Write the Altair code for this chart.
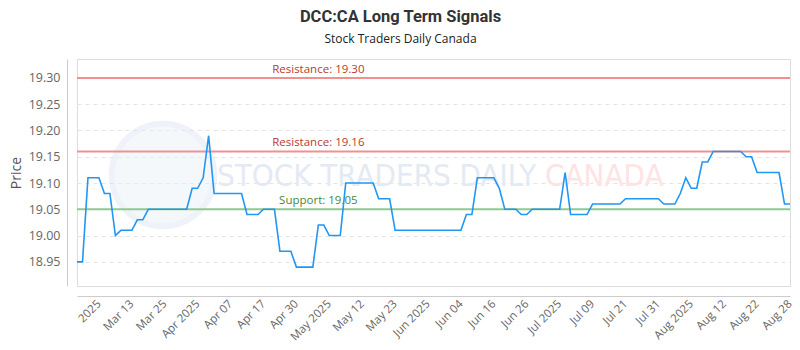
import altair as alt
import pandas as pd

# ---- data ----
prices = [
    18.95, 18.95, 19.11, 19.11, 19.11, 19.08, 19.08, 19.00, 19.01, 19.01,
    19.01, 19.03, 19.03, 19.05, 19.05, 19.05, 19.05, 19.05, 19.05, 19.05,
    19.05, 19.09, 19.09, 19.11, 19.19, 19.08, 19.08, 19.08, 19.08, 19.08,
    19.08, 19.04, 19.04, 19.04, 19.05, 19.05, 19.05, 18.97, 18.97, 18.97,
    18.94, 18.94, 18.94, 18.94, 19.02, 19.02, 19.00, 19.00, 19.00, 19.10,
    19.10, 19.10, 19.10, 19.10, 19.10, 19.07, 19.07, 19.07, 19.01, 19.01,
    19.01, 19.01, 19.01, 19.01, 19.01, 19.01, 19.01, 19.01, 19.01, 19.01,
    19.01, 19.04, 19.04, 19.11, 19.11, 19.11, 19.11, 19.09, 19.05, 19.05,
    19.05, 19.04, 19.04, 19.05, 19.05, 19.05, 19.05, 19.05, 19.05, 19.12,
    19.04, 19.04, 19.04, 19.04, 19.06, 19.06, 19.06, 19.06, 19.06, 19.06,
    19.07, 19.07, 19.07, 19.07, 19.07, 19.07, 19.07, 19.06, 19.06, 19.06,
    19.08, 19.11, 19.09, 19.09, 19.14, 19.14, 19.16, 19.16, 19.16, 19.16,
    19.16, 19.16, 19.15, 19.15, 19.12, 19.12, 19.12, 19.12, 19.12, 19.06,
    19.06,
]

tick_pos = [4, 10, 16, 22, 28, 34, 40, 46, 52, 58, 64, 70, 76, 82, 88, 94,
            100, 106, 112, 118, 124, 130]
tick_labels = ["2025", "Mar 13", "Mar 25", "Apr 2025", "Apr 07", "Apr 17",
               "Apr 30", "May 2025", "May 12", "May 23", "Jun 2025", "Jun 04",
               "Jun 16", "Jun 26", "Jul 2025", "Jul 09", "Jul 21", "Jul 31",
               "Aug 2025", "Aug 12", "Aug 22", "Aug 28"]

y_ticks = [18.95, 19.00, 19.05, 19.10, 19.15, 19.20, 19.25, 19.30]

levels = [19.30, 19.16, 19.05]
level_text = ["Resistance: 19.30", "Resistance: 19.16", "Support: 19.05"]
level_kind = ["Resistance", "Resistance", "Support"]
label_pos = [44, 44, 44]

# ---- tables ----
df = pd.DataFrame({"idx": list(range(len(prices))), "price": prices})
lv = pd.DataFrame({"level": levels, "text": level_text, "kind": level_kind,
                   "pos": label_pos})

x_scale = alt.Scale(domain=[0, len(prices) - 1], nice=False, zero=False)
y_scale = alt.Scale(domain=[18.904, 19.336], nice=False, zero=False)

lookup = "{" + ",".join("'%d':'%s'" % (p, t) for p, t in zip(tick_pos, tick_labels)) + "}"

x_axis = alt.Axis(values=tick_pos, labelExpr=lookup + "[toString(datum.value)]",
                  labelAngle=-45, labelAlign="right", labelBaseline="middle",
                  labelFlush=False, labelOverlap=False, labelPadding=6,
                  labelFont="Open Sans", labelFontSize=11.5, labelColor="#666",
                  ticks=False, grid=False, domainColor="#ccc", offset=10,
                  title=None)
y_axis = alt.Axis(values=y_ticks, format=".2f", labelFont="Open Sans",
                  labelFontSize=12.5, labelColor="#666", labelPadding=7,
                  labelOverlap=False, labelFlush=False,
                  ticks=False, domainColor="#ccc", offset=10,
                  grid=True, gridColor="#e4e4e4", gridDash=[4, 4],
                  title="Price", titleFont="Open Sans", titleFontSize=14,
                  titleFontWeight="normal", titleColor="#555", titlePadding=5)

kind_color = alt.Scale(domain=["Resistance", "Support"],
                       range=["#f29090", "#90c890"])
kind_text_color = alt.Scale(domain=["Resistance", "Support"],
                            range=["#b83a32", "#3f8a3f"])

WM_FONT = "'DejaVu Sans Condensed', Roboto, sans-serif"

# watermark (decorative)
wm_logo = alt.Chart(pd.DataFrame({"a": [0]})).mark_point(
    shape="circle", size=10500, filled=True, fill="#eaf0f8", opacity=0.45,
    stroke="#dde6f2", strokeWidth=6).encode(x=alt.value(86), y=alt.value(116))
wm_text1 = alt.Chart(pd.DataFrame({"a": [0]})).mark_text(
    text="STOCK TRADERS DAILY", font=WM_FONT, fontSize=31,
    color="#e4eaf3", align="left", baseline="middle").encode(
    x=alt.value(140), y=alt.value(118))
wm_text2 = alt.Chart(pd.DataFrame({"a": [0]})).mark_text(
    text="CANADA", font=WM_FONT, fontSize=31,
    color="#fde3e3", align="left", baseline="middle").encode(
    x=alt.value(468), y=alt.value(118))

rules = alt.Chart(lv).mark_rule(strokeWidth=2).encode(
    y=alt.Y("level:Q", scale=y_scale, axis=y_axis),
    color=alt.Color("kind:N", scale=kind_color, legend=None))

labels = alt.Chart(lv).mark_text(font="Open Sans", fontSize=11.5,
                                 align="center", baseline="bottom", dy=-3).encode(
    x=alt.X("pos:Q", scale=x_scale, axis=x_axis),
    y=alt.Y("level:Q", scale=y_scale, axis=y_axis),
    text="text:N",
    color=alt.Color("kind:N", scale=kind_text_color, legend=None))

line = alt.Chart(df).mark_line(color="#2196f3", strokeWidth=1.6).encode(
    x=alt.X("idx:Q", scale=x_scale, axis=x_axis),
    y=alt.Y("price:Q", scale=y_scale, axis=y_axis))

chart = alt.layer(wm_logo, wm_text1, wm_text2, rules, labels, line).resolve_scale(
    color="independent").properties(
    width=713, height=227,
    padding={"left": 77, "top": 59, "right": 10, "bottom": 64},
    autosize=alt.AutoSizeParams(type="none"),
    title=alt.TitleParams(
        text="DCC:CA Long Term Signals",
        subtitle="Stock Traders Daily Canada",
        font="Roboto", fontSize=16.5, fontWeight="bold",
        color="#333", subtitleFont="Open Sans", subtitleFontSize=12,
        subtitleColor="#222", subtitlePadding=9, anchor="middle", dx=-33,
        offset=14),
).configure_view(stroke="#777", strokeWidth=1).configure(background="white")

chart.save("out.html", embed_options={"renderer": "svg", "actions": False})
